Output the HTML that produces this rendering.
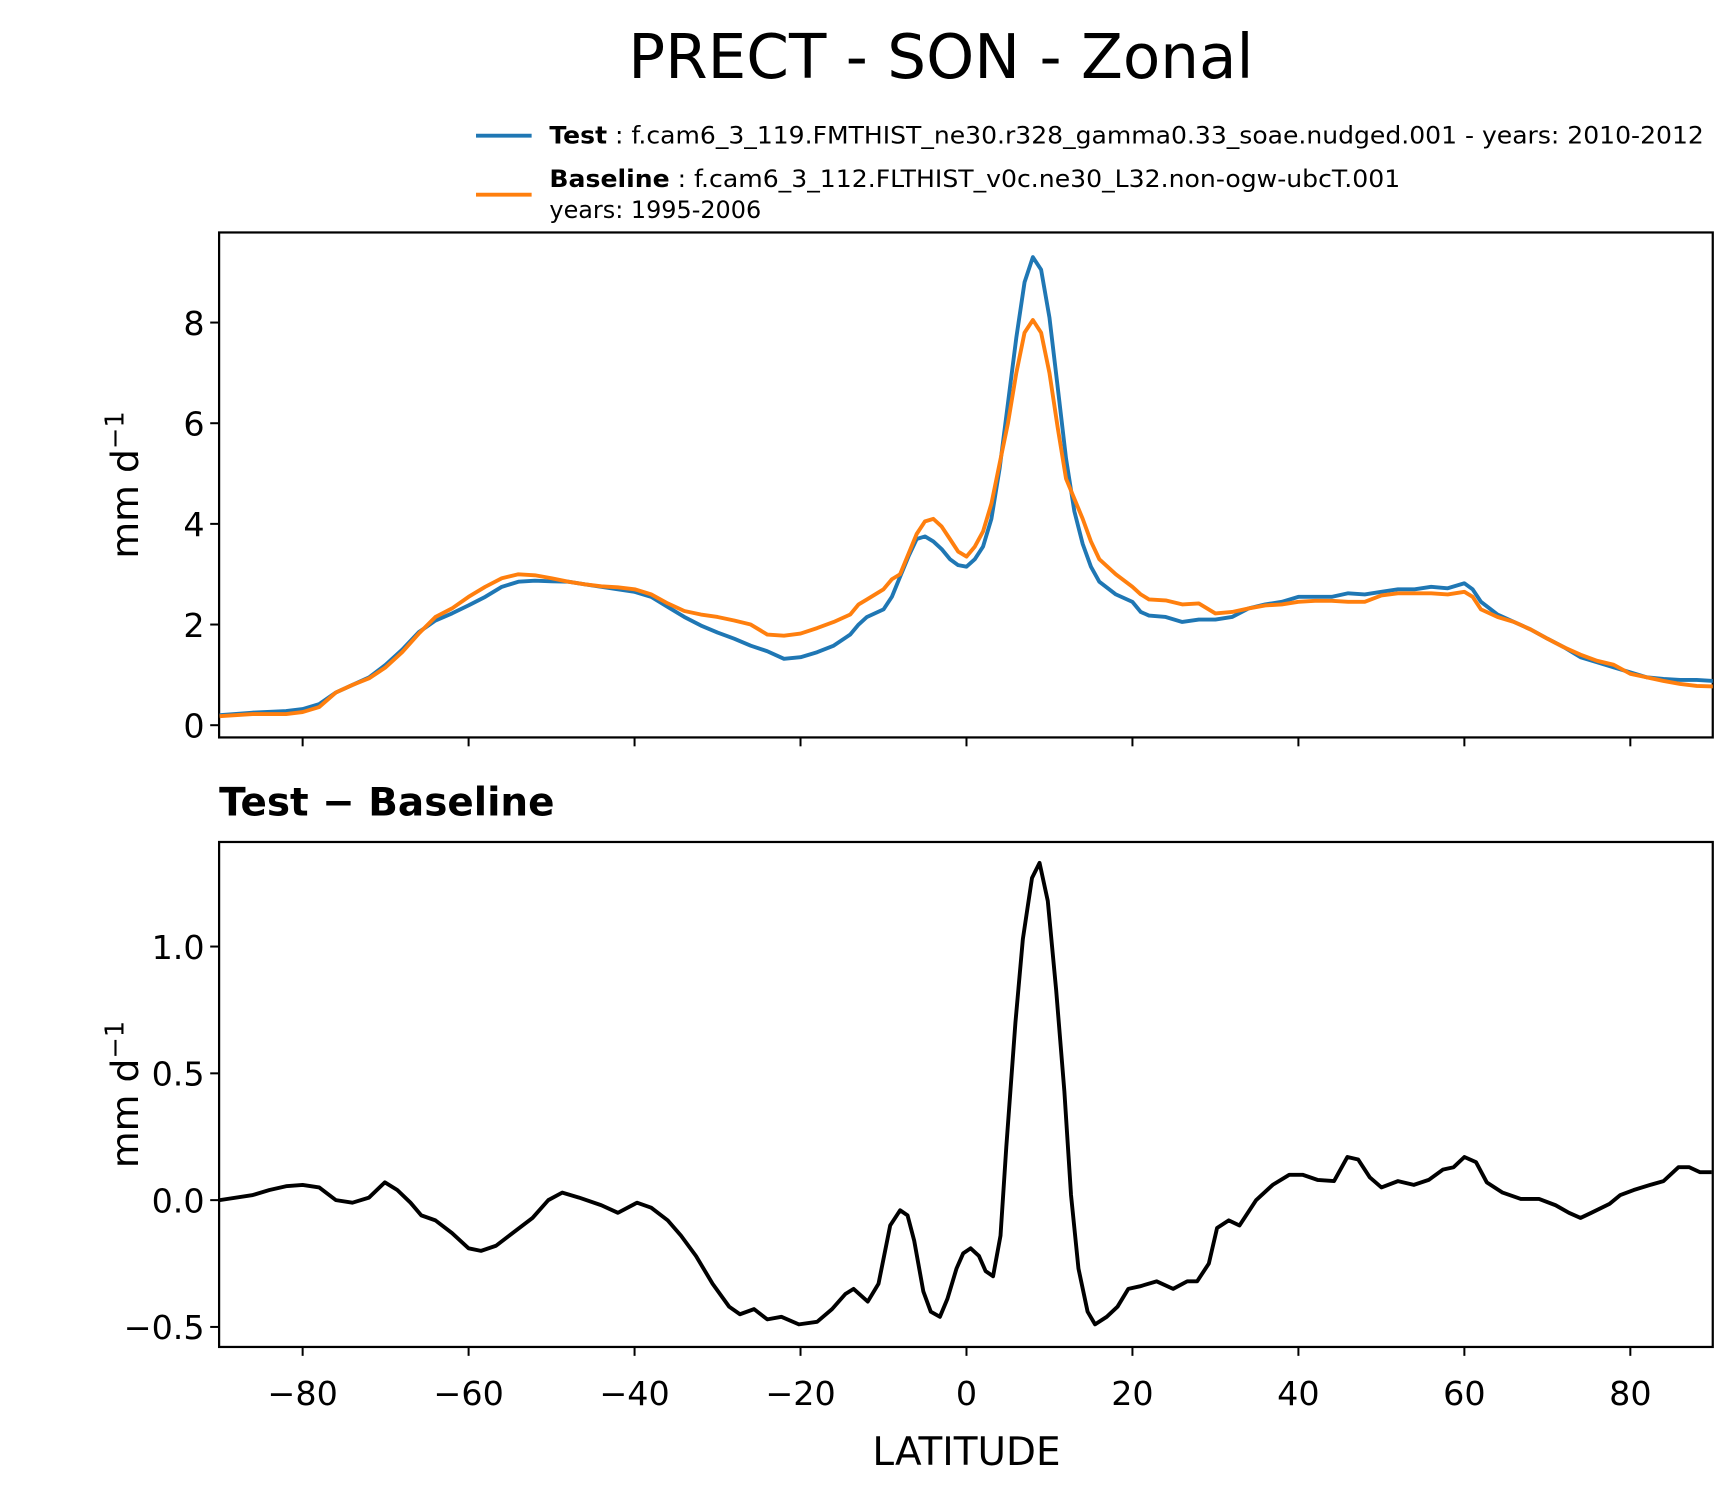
<!DOCTYPE html>
<html><head><meta charset="utf-8"><style>
html,body{margin:0;padding:0;background:#fff}
svg{display:block;font-family:"DejaVu Sans","Liberation Sans",sans-serif}
</style></head><body>
<svg id="chart" width="1735" height="1496" viewBox="0 0 1560 1345" preserveAspectRatio="none" xmlns="http://www.w3.org/2000/svg">
<rect width="1560" height="1345" fill="#fff"/>
<text x="846" y="70" font-size="55" text-anchor="middle">PRECT - SON - Zonal</text>
<g>
<line x1="428" y1="122" x2="478" y2="122" stroke="#1f77b4" stroke-width="3.5"/>
<text x="494" y="129" font-size="21.5" textLength="1038" lengthAdjust="spacingAndGlyphs"><tspan font-weight="bold">Test</tspan> : f.cam6_3_119.FMTHIST_ne30.r328_gamma0.33_soae.nudged.001 - years: 2010-2012</text>
<line x1="428" y1="175" x2="478" y2="175" stroke="#ff7f0e" stroke-width="3.5"/>
<text x="494" y="168" font-size="21.5" textLength="765" lengthAdjust="spacingAndGlyphs"><tspan font-weight="bold">Baseline</tspan> : f.cam6_3_112.FLTHIST_v0c.ne30_L32.non-ogw-ubcT.001</text>
<text x="494" y="196" font-size="21.5">years: 1995-2006</text>
</g>
<text x="197" y="733" font-size="35" font-weight="bold">Test − Baseline</text>
<text x="869" y="1317" font-size="35" text-anchor="middle">LATITUDE</text>
<g id="g"></g>
</svg>
<script>
const lats=[-90,-86,-82,-80,-78,-76,-74,-72,-70,-68,-66,-64,-62,-60,-58,-56,-54,-52,-50,-48,-46,-44,-42,-40,-38,-36,-34,-32,-30,-28,-26,-24,-22,-20,-18,-16,-14,-13,-12,-10,-9,-8,-7,-6,-5,-4,-3,-2,-1,0,1,2,3,4,5,6,7,8,9,10,11,12,13,14,15,16,18,20,21,22,24,26,28,30,32,34,36,38,40,42,44,46,48,50,52,54,56,58,60,61,62,64,66,68,70,72,74,76,78,80,82,84,86,88,90];
const testVals=[0.2,0.25,0.28,0.32,0.42,0.65,0.8,0.95,1.2,1.5,1.85,2.08,2.22,2.38,2.55,2.75,2.85,2.87,2.86,2.85,2.8,2.75,2.7,2.65,2.55,2.35,2.15,1.98,1.84,1.72,1.58,1.47,1.32,1.35,1.45,1.58,1.8,2.0,2.15,2.3,2.55,2.95,3.35,3.7,3.75,3.65,3.5,3.3,3.18,3.15,3.3,3.55,4.1,5.1,6.4,7.7,8.8,9.3,9.05,8.1,6.7,5.3,4.25,3.6,3.15,2.85,2.6,2.45,2.25,2.18,2.15,2.05,2.1,2.1,2.15,2.32,2.4,2.45,2.55,2.55,2.55,2.62,2.6,2.65,2.7,2.7,2.75,2.72,2.82,2.7,2.45,2.2,2.05,1.9,1.72,1.55,1.35,1.25,1.15,1.05,0.95,0.92,0.9,0.9,0.88];
const baseVals=[0.18,0.22,0.22,0.26,0.36,0.65,0.8,0.93,1.15,1.45,1.82,2.15,2.32,2.55,2.75,2.92,3.0,2.98,2.92,2.85,2.8,2.76,2.74,2.7,2.6,2.42,2.27,2.2,2.15,2.08,2.0,1.8,1.78,1.82,1.93,2.05,2.2,2.4,2.5,2.7,2.9,3.0,3.4,3.8,4.05,4.1,3.95,3.7,3.45,3.35,3.55,3.85,4.4,5.2,6.0,7.0,7.8,8.05,7.8,7.0,5.9,4.9,4.5,4.1,3.65,3.3,3.0,2.75,2.6,2.5,2.48,2.4,2.42,2.22,2.25,2.32,2.38,2.4,2.45,2.47,2.47,2.45,2.45,2.58,2.62,2.62,2.62,2.6,2.65,2.55,2.3,2.15,2.05,1.9,1.72,1.55,1.4,1.28,1.2,1.02,0.95,0.88,0.82,0.78,0.77];
const diffLats=[-90,-86,-84,-82,-80,-78,-76,-74,-72,-70.1,-68.6,-67,-65.7,-64,-62,-60,-58.5,-56.7,-54.7,-52.3,-50.4,-48.7,-46.7,-44,-42,-39.7,-38,-36,-34.4,-32.6,-30.6,-28.6,-27.3,-25.6,-24,-22.3,-20.2,-18,-16.2,-14.6,-13.6,-11.9,-10.6,-9.2,-8,-7.1,-6.3,-5.2,-4.3,-3.2,-2.3,-1.2,-0.4,0.5,1.5,2.3,3.2,4.1,4.8,5.9,6.8,7.9,8.8,9.8,10.8,11.8,12.6,13.5,14.6,15.5,16.9,18.2,19.5,20.9,22.9,24.9,26.6,27.8,29.2,30.2,31.6,32.9,34.9,36.9,38.9,40.5,42.3,44.3,45.9,47.2,48.6,50,52,53.9,55.7,57.4,58.7,60,61.4,62.7,64.6,66.8,69,71,72.6,74,75.3,77.5,78.8,80.4,82.4,84,85.8,87.1,88.4,89.8];
const diffVals=[0,0.02,0.04,0.055,0.06,0.05,0,-0.01,0.01,0.07,0.04,-0.01,-0.06,-0.08,-0.13,-0.19,-0.2,-0.18,-0.13,-0.07,0,0.03,0.01,-0.02,-0.05,-0.01,-0.03,-0.08,-0.14,-0.22,-0.33,-0.42,-0.45,-0.43,-0.47,-0.46,-0.49,-0.48,-0.43,-0.37,-0.35,-0.4,-0.33,-0.1,-0.04,-0.06,-0.16,-0.36,-0.44,-0.46,-0.39,-0.27,-0.21,-0.19,-0.22,-0.28,-0.3,-0.14,0.21,0.7,1.03,1.27,1.33,1.18,0.83,0.43,0.02,-0.27,-0.44,-0.49,-0.46,-0.42,-0.35,-0.34,-0.32,-0.35,-0.32,-0.32,-0.25,-0.11,-0.08,-0.1,0,0.06,0.1,0.1,0.08,0.075,0.17,0.16,0.09,0.05,0.075,0.06,0.08,0.12,0.13,0.17,0.15,0.07,0.03,0.005,0.005,-0.02,-0.05,-0.07,-0.05,-0.015,0.02,0.04,0.06,0.075,0.13,0.13,0.11,0.11];
const xTicks=[-80,-60,-40,-20,0,20,40,60,80];
const topTicks=[0,2,4,6,8];
const botTicks=[-0.5,0,0.5,1.0];
const botTickLabels=["−0.5","0.0","0.5","1.0"];

const NS="http://www.w3.org/2000/svg";
const g=document.getElementById('g');
const L=197,R=1540;
const xs=v=>869+v*(R-L)/180;
const yTop=v=>652-v*45.25;
const yBot=v=>1079-v*228;
function mk(t,a){const e=document.createElementNS(NS,t);for(const k in a)e.setAttribute(k,a[k]);g.appendChild(e);return e;}
function line(xa,ya,fy,color,name,clipId){
  const d=xa.map((x,i)=>(i?'L':'M')+xs(x).toFixed(1)+','+fy(ya[i]).toFixed(1)).join('');
  const p=mk('path',{d:d,fill:'none',stroke:color,'stroke-width':3.5,'stroke-linejoin':'round','clip-path':'url(#'+clipId+')'});
  
  
}
const defs=mk('defs',{});
defs.innerHTML='<clipPath id="c1"><rect x="197" y="209" width="1343" height="454"/></clipPath><clipPath id="c2"><rect x="197" y="757" width="1343" height="454"/></clipPath>';
function axes(top,bot,ticks,labels,fy,name,showX){
  const f=mk('rect',{x:L,y:top,width:R-L,height:bot-top,fill:'none',stroke:'#000','stroke-width':2});
  
  
  ticks.forEach((t,i)=>{
    mk('line',{x1:L-8,x2:L,y1:fy(t),y2:fy(t),stroke:'#000','stroke-width':1.8});
    const tx=mk('text',{x:L-13,y:fy(t)+11,'font-size':30,'text-anchor':'end'});
    tx.textContent=labels[i];
    
    
  });
  xTicks.forEach(t=>{
    mk('line',{x1:xs(t),x2:xs(t),y1:bot,y2:bot+8,stroke:'#000','stroke-width':1.8});
    if(showX){
      const tx=mk('text',{x:xs(t),y:bot+52,'font-size':30,'text-anchor':'middle'});
      tx.textContent=(t<0?'−':'')+Math.abs(t);
      
      
    }
  });
  const yl=mk('text',{x:0,y:0,'font-size':34,'text-anchor':'middle',transform:'translate(124,'+((top+bot)/2)+') rotate(-90)'});
  yl.innerHTML='mm d<tspan dy="-13" font-size="23">−1</tspan>';
  
  
}
axes(209,663,topTicks,topTicks.map(String),yTop,'top-panel',false);
axes(757,1211,botTicks,botTickLabels,yBot,'bottom-panel',true);
line(lats,testVals,yTop,'#1f77b4','test-line','c1');
line(lats,baseVals,yTop,'#ff7f0e','baseline-line','c1');
line(diffLats,diffVals,yBot,'#000','difference-line','c2');
</script>
</body></html>
